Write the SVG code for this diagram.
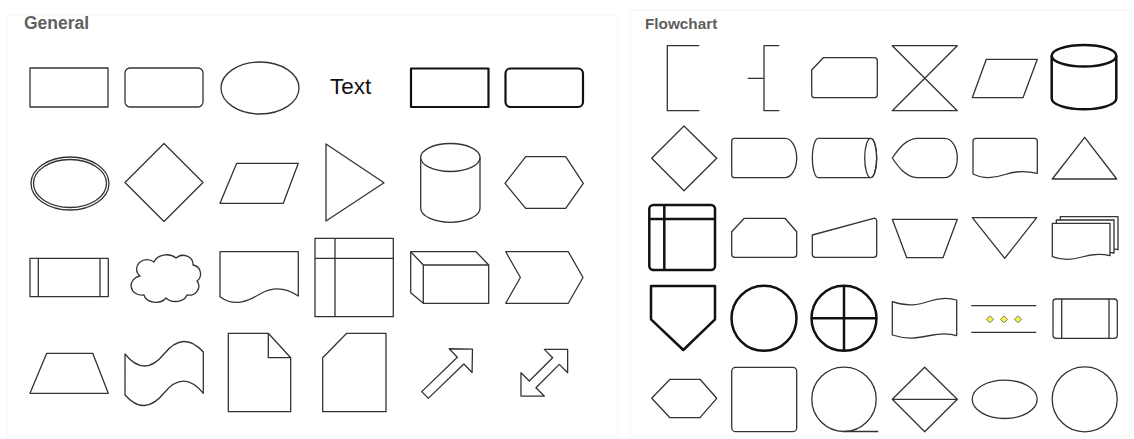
<svg xmlns="http://www.w3.org/2000/svg" width="1134" height="439" viewBox="0 0 1134 439">
<style>
.s{fill:#fff;stroke:#333;stroke-width:1.3;stroke-linejoin:round}
.n{fill:none;stroke:#333;stroke-width:1.3;stroke-linejoin:round}
.b{fill:#fff;stroke:#111;stroke-width:2.5;stroke-linejoin:round}
.bn{fill:none;stroke:#111;stroke-width:2.5}
.t{font-family:"Liberation Sans",Arial,Helvetica,sans-serif;font-weight:bold;fill:#5f5f5f}
.pn{fill:#fff;stroke:#f6f6f6;stroke-width:1}
.yd{fill:#f4f43a;stroke:#777;stroke-width:1}
</style>
<rect width="1134" height="439" fill="#fff"/>
<g id="panel-general">
<rect class="pn" x="7" y="15" width="611" height="421"/>
<text class="t" x="24" y="29" font-size="17.5">General</text>
</g>
<g id="panel-flowchart">
<rect class="pn" x="630" y="10" width="500" height="426"/>
<text class="t" x="645" y="29" font-size="15.3">Flowchart</text>
</g>
<g id="connectors"></g>

<!-- General row 1 -->
<g id="g-rect"><rect class="s" x="30" y="68" width="78" height="39"/></g>
<g id="g-rrect"><rect class="s" x="125" y="68" width="78" height="39" rx="5"/></g>
<g id="g-ellipse"><ellipse class="s" cx="260" cy="88" rx="39" ry="26"/></g>
<g id="g-text"><text x="330" y="94" font-family="Liberation Sans, Arial, Helvetica, sans-serif" font-size="22.5" fill="#111">Text</text></g>
<g id="g-brect"><rect class="b" x="411" y="68.5" width="77.5" height="38.5" style="stroke-width:2.2"/></g>
<g id="g-brrect"><rect class="b" x="505.5" y="68.5" width="77.5" height="38.5" rx="5" style="stroke-width:2.2"/></g>

<!-- General row 2 -->
<g id="g-dellipse"><ellipse class="s" cx="70" cy="183.5" rx="39" ry="26.5"/><ellipse class="n" cx="70" cy="183.5" rx="36.5" ry="24"/></g>
<g id="g-diamond"><polygon class="s" points="125,182.5 164,143.5 203,182.5 164,221.5"/></g>
<g id="g-parallelogram"><polygon class="s" points="236.7,163.3 298.3,163.3 283.3,203.3 220,203.3"/></g>
<g id="g-triangle"><polygon class="s" points="326,144 384,182.7 326,221"/></g>
<g id="g-cylinder"><path class="s" d="M420.7,157.5 V208.3 A29.65,14 0 0 0 480,208.3 V157.5"/><ellipse class="s" cx="450.35" cy="157.5" rx="29.65" ry="14"/></g>
<g id="g-hexagon"><polygon class="s" points="505,183.3 525.7,156.7 565.7,156.7 583.3,183.3 565.7,208.3 525.7,208.3"/></g>

<!-- General row 3 -->
<g id="g-process"><rect class="s" x="30" y="258.3" width="78.3" height="38.4"/><path class="n" d="M38.3,258.3V296.7M100,258.3V296.7"/></g>
<g id="g-cloud"><path class="s" d="M140,276 a10,9 0 0 1 14,-14 a13,10 0 0 1 22,-4 a10,9 0 0 1 17,7 a9,9 0 0 1 4,16 a10,9 0 0 1 -10,14 a12,9 0 0 1 -21,3 a12,9 0 0 1 -22,-3 a9,8 0 0 1 -4,-19 z"/></g>
<g id="g-document"><path class="s" d="M220,296.7 V251.7 H298.3 V296 C285,287 272,287 260,294 C250,300 235,308 220,296.7 Z"/></g>
<g id="g-internal"><rect class="s" x="315" y="238.3" width="78.3" height="78.4"/><path class="n" d="M335,238.3V316.7M315,258.3H393.3"/></g>
<g id="g-cube"><path class="s" d="M410.7,251.7 H476 L488.7,265 V303.3 H423.3 L410.7,292.7 Z"/><path class="n" d="M410.7,251.7 L423.3,265 H488.7 M423.3,265 V303.3"/></g>
<g id="g-step"><polygon class="s" points="505.7,251.7 568.3,251.7 583,277.5 568.3,303.3 505.7,303.3 520.4,277.5"/></g>

<!-- General row 4 -->
<g id="g-trapezoid"><polygon class="s" points="30,393.3 108.3,393.3 92.7,353.3 46.7,353.3"/></g>
<g id="g-tape"><path class="s" d="M125,354 Q144.5,378 164,354 T203.3,352 V393.3 Q183.5,369 164,393 T125,395 Z"/></g>
<g id="g-note"><path class="s" d="M228.3,333.3 H268.3 L290.7,357.7 V411.7 H228.3 Z"/><path class="n" d="M268.3,333.3 V357.7 H290.7"/></g>
<g id="g-card"><path class="s" d="M346.7,333.3 H386 V411.7 H322.7 V357.7 Z"/></g>
<g id="g-arrow"><polygon class="s" transform="translate(425,395) rotate(-44)" points="0,-4.7 49.5,-4.7 49.5,-16.5 66,0 49.5,16.5 49.5,4.7 0,4.7"/></g>
<g id="g-darrow"><polygon class="s" transform="translate(544.3,372.7) rotate(-45)" points="-33,0 -16.5,-16.5 -16.5,-4.7 16.5,-4.7 16.5,-16.5 33,0 16.5,16.5 16.5,4.7 -16.5,4.7 -16.5,16.5"/></g>

<!-- Flowchart row 1 -->
<g id="f-annotation1"><path class="n" d="M699.3,45.7 H667.3 V110.7 H699.3"/></g>
<g id="f-annotation2"><path class="n" d="M779.3,45.7 H764 V110.7 H779.3 M747.7,78.3 H764"/></g>
<g id="f-looplimit"><path class="s" d="M823.3,57.7 H874.3 Q877.3,57.7 877.3,60.7 V94.7 Q877.3,97.7 874.3,97.7 H814.7 Q811.7,97.7 811.7,94.7 V70 Z"/></g>
<g id="f-collate"><path class="s" d="M892.3,45.7 H957.3 L892.3,110.7 H957.3 Z"/></g>
<g id="f-data"><polygon class="s" points="986.3,59.3 1037.3,59.3 1023,97.7 972.3,97.7"/></g>
<g id="f-database"><path class="b" d="M1051.7,55.8 V98.5 A32.3,10.8 0 0 0 1116.3,98.5 V55.8"/><ellipse class="b" cx="1084" cy="55.8" rx="32.3" ry="10.8"/></g>

<!-- Flowchart row 2 -->
<g id="f-decision"><polygon class="s" points="651.7,158.3 684,126 716.7,158.3 684,190.7"/></g>
<g id="f-delay"><path class="s" d="M734.7,138.3 H785 A11.7,19.7 0 0 1 785,177.7 H734.7 Q731.7,177.7 731.7,174.7 V141.3 Q731.7,138.3 734.7,138.3 Z"/></g>
<g id="f-directaccess"><path class="s" d="M818.3,138.3 H870.7 A6,19.7 0 0 1 870.7,177.7 H818.3 A6,19.7 0 0 1 818.3,138.3 Z"/><ellipse class="n" cx="870.7" cy="158" rx="6" ry="19.7"/></g>
<g id="f-display"><path class="s" d="M892.3,158 C899,148 906,139 917,138.3 H944.7 A12.6,19.7 0 0 1 944.7,177.7 H917 C906,177 899,168 892.3,158 Z"/></g>
<g id="f-document"><path class="s" d="M973,174 V141.3 Q973,138.3 976,138.3 H1034.3 Q1037.3,138.3 1037.3,141.3 V173.3 C1027,171 1015,171 1005,174.5 C995,178 983,179 973,174 Z"/></g>
<g id="f-extract"><polygon class="s" points="1084.7,137.3 1116.7,179 1052.3,179"/></g>

<!-- Flowchart row 3 -->
<g id="f-internal"><rect class="b" x="649.3" y="205" width="65.7" height="65" rx="4"/><path class="bn" d="M664.3,205V270M649.3,219H715"/></g>
<g id="f-looplimit2"><path class="s" d="M744.3,218.3 H785 L796.7,231.7 V254.3 Q796.7,257.3 793.7,257.3 H734.7 Q731.7,257.3 731.7,254.3 V231.7 Z"/></g>
<g id="f-manualinput"><path class="s" d="M812.3,235 L873.7,218.3 Q876.7,218 876.7,221.3 V254.3 Q876.7,257.3 873.7,257.3 H815.3 Q812.3,257.3 812.3,254.3 Z"/></g>
<g id="f-manualop"><polygon class="s" points="892.3,219.3 957.3,219.3 943,257.7 906.7,257.7"/></g>
<g id="f-merge"><polygon class="s" points="972.3,217.7 1036.7,217.7 1004.7,258.3"/></g>
<g id="f-multidoc">
<path class="s" d="M1060.3,216.7 H1118 V249.7 C1112,248 1106,249 1100,250 L1060.3,250 Z"/>
<path class="s" d="M1056.3,220 H1114 V253 C1108,251.5 1102,252.5 1096,253.5 L1056.3,253.5 Z"/>
<path class="s" d="M1052.3,256.7 V223.3 H1110 V255.7 C1101,253.5 1092,254 1082,257 C1072,260 1061,260 1052.3,256.7 Z"/>
</g>

<!-- Flowchart row 4 -->
<g id="f-offpage"><polygon class="b" points="651,286 715,286 715,319.3 683.3,350 651,319.3"/></g>
<g id="f-connector"><circle class="b" cx="764" cy="318.3" r="32.5"/></g>
<g id="f-or"><circle class="b" cx="844" cy="318.3" r="32.5"/><path class="bn" d="M844,285.8V350.8M811.5,318.3H876.5"/></g>
<g id="f-papertape"><path class="s" d="M892.3,301.7 C908,307 918,305 930,301 C942,297 950,298 956.7,300 V335.7 C950,333.5 942,333 930,335.5 C918,338 908,340 892.3,335 Z"/></g>
<g id="f-parallel"><path class="n" d="M971.3,305.7H1036.3M971.3,332.3H1036.3"/><polygon class="yd" points="990,315.8 993.5,319.3 990,322.8 986.5,319.3"/><polygon class="yd" points="1004,315.8 1007.5,319.3 1004,322.8 1000.5,319.3"/><polygon class="yd" points="1018,315.8 1021.5,319.3 1018,322.8 1014.5,319.3"/></g>
<g id="f-predefined"><rect class="s" x="1053" y="299" width="64.3" height="39.3" rx="3"/><path class="n" d="M1061.7,299V338.3M1109,299V338.3"/></g>

<!-- Flowchart row 5 -->
<g id="f-preparation"><polygon class="s" points="651.7,398.3 670,379.3 700,379.3 716.7,398.3 700,417.7 670,417.7"/></g>
<g id="f-square"><rect class="s" x="731.7" y="367.3" width="65" height="64.4" rx="4"/></g>
<g id="f-sequential"><circle class="s" cx="844" cy="399.3" r="32.2"/><path class="n" d="M844,431.5H878.3"/></g>
<g id="f-sort"><polygon class="s" points="892.3,399.3 924.7,367.3 957.3,399.3 924.7,431.7"/><path class="n" d="M892.3,399.3H957.3"/></g>
<g id="f-ellipse"><ellipse class="s" cx="1004.7" cy="399.3" rx="32.5" ry="19.2"/></g>
<g id="f-circle"><circle class="s" cx="1084.7" cy="399.3" r="32.5"/></g>
</svg>
